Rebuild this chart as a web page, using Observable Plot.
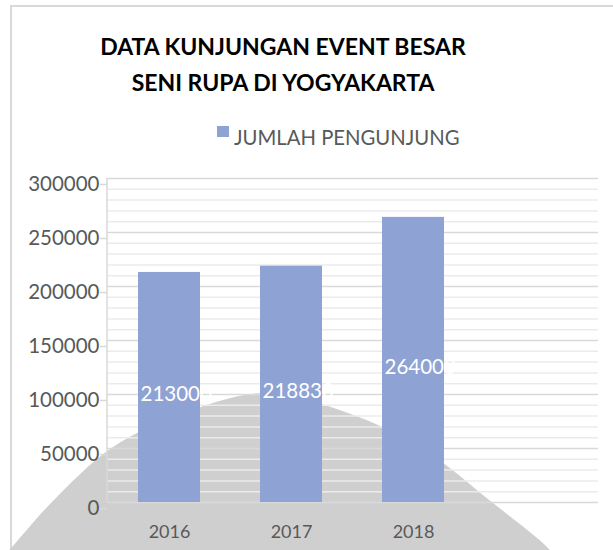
<!DOCTYPE html>
<html>
<head>
<meta charset="utf-8">
<script src="https://cdn.jsdelivr.net/npm/d3@7"></script>
<script src="https://cdn.jsdelivr.net/npm/@observablehq/plot@0.6"></script>
<style>
  html, body { margin: 0; padding: 0; background: #fff; }
  body { width: 613px; height: 550px; position: relative; overflow: hidden; font-family: Lato, "Open Sans", sans-serif; }
  #frame { position: absolute; left: 10px; top: 5px; width: 700px; height: 700px; border-left: 2px solid #d9d9d9; border-top: 2px solid #d9d9d9; box-sizing: border-box; }
  #wm { position: absolute; left: 0; top: 0; }
  #title { position: absolute; left: 0; top: 28px; width: 566px; text-align: center; font-weight: 700; font-size: 23px; line-height: 36px; color: #000; }
  #legend-swatch { position: absolute; left: 217px; top: 126px; width: 12px; height: 11px; background: #8FA2D4; }
  #legend-text { position: absolute; left: 234px; top: 125px; font-size: 20.3px; line-height: normal; color: #595959; white-space: nowrap; }
  #chart { position: absolute; left: 0; top: 160px; }
</style>
</head>
<body>
<div id="frame"></div>
<svg id="wm" width="613" height="550"></svg>
<div id="title">DATA KUNJUNGAN EVENT BESAR<br>SENI RUPA DI YOGYAKARTA</div>
<div id="legend-swatch"></div>
<div id="legend-text">JUMLAH PENGUNJUNG</div>
<div id="chart"></div>
<script>
// ---- data ----
const years = ["2016", "2017", "2018"];
const visitors = [213000, 218830, 264000];
const categorySlots = ["2016", "2017", "2018", ""]; // source chart keeps an empty fourth slot
const yMajorTicks = [0, 50000, 100000, 150000, 200000, 250000, 300000];
const yMinorTicks = [10000, 20000, 30000, 40000, 60000, 70000, 80000, 90000,
  110000, 120000, 130000, 140000, 160000, 170000, 180000, 190000,
  210000, 220000, 230000, 240000, 260000, 270000, 280000, 290000];

const data = years.map((y, i) => ({year: y, value: visitors[i]}));

// ---- faint background watermark (decoration of the source image) ----
const wmOutline = [[-5,565],[12,547],[51,503],[113,447],[184,413],[265,393],[348,413],[420,447],[493,503],[547,547],[562,565]];
d3.select("#wm").append("path")
  .attr("d", d3.line().curve(d3.curveCatmullRom.alpha(0.5))(wmOutline) + "Z")
  .attr("fill", "#cfcfcf");

// ---- chart ----
const leftAxisLine = (index, scales, values, dims) => {
  const g = d3.create("svg:line")
    .attr("x1", dims.marginLeft).attr("x2", dims.marginLeft)
    .attr("y1", dims.marginTop).attr("y2", dims.height - dims.marginBottom)
    .attr("stroke", "#d9d9d9").attr("stroke-width", 1.5);
  return g.node();
};

const chart = Plot.plot({
  width: 613,
  height: 390,
  marginTop: 18,
  marginBottom: 48,
  marginLeft: 107,
  marginRight: 15,
  style: {fontFamily: "Lato, 'Open Sans', sans-serif", background: "transparent"},
  x: {domain: categorySlots, paddingInner: 0.49, paddingOuter: 0.245, label: null},
  y: {domain: [0, 300000], label: null},
  marks: [
    Plot.ruleY(yMinorTicks, {stroke: "#ebebeb", strokeWidth: 1.5}),
    Plot.ruleY(yMajorTicks, {stroke: "#d9d9d9", strokeWidth: 1.5}),
    leftAxisLine,
    Plot.barY(data, {x: "year", y: "value", fill: "#8FA2D4"}),
    Plot.text(data, {x: "year", y: d => d.value / 2, text: d => String(d.value),
      fill: "white", fontSize: 20.5, textAnchor: "start", dx: -29, dy: 7}),
    Plot.axisY({ticks: yMajorTicks, tickFormat: d => String(d), tickSize: 7, tickPadding: 1,
      stroke: "#d9d9d9", strokeWidth: 1.5, color: "#595959", fontSize: 20.5, dy: 6, label: null}),
    Plot.axisX({tickSize: 0, tickPadding: 23, color: "#595959", fontSize: 18, label: null})
  ]
});
document.getElementById("chart").appendChild(chart);
</script>
</body>
</html>
